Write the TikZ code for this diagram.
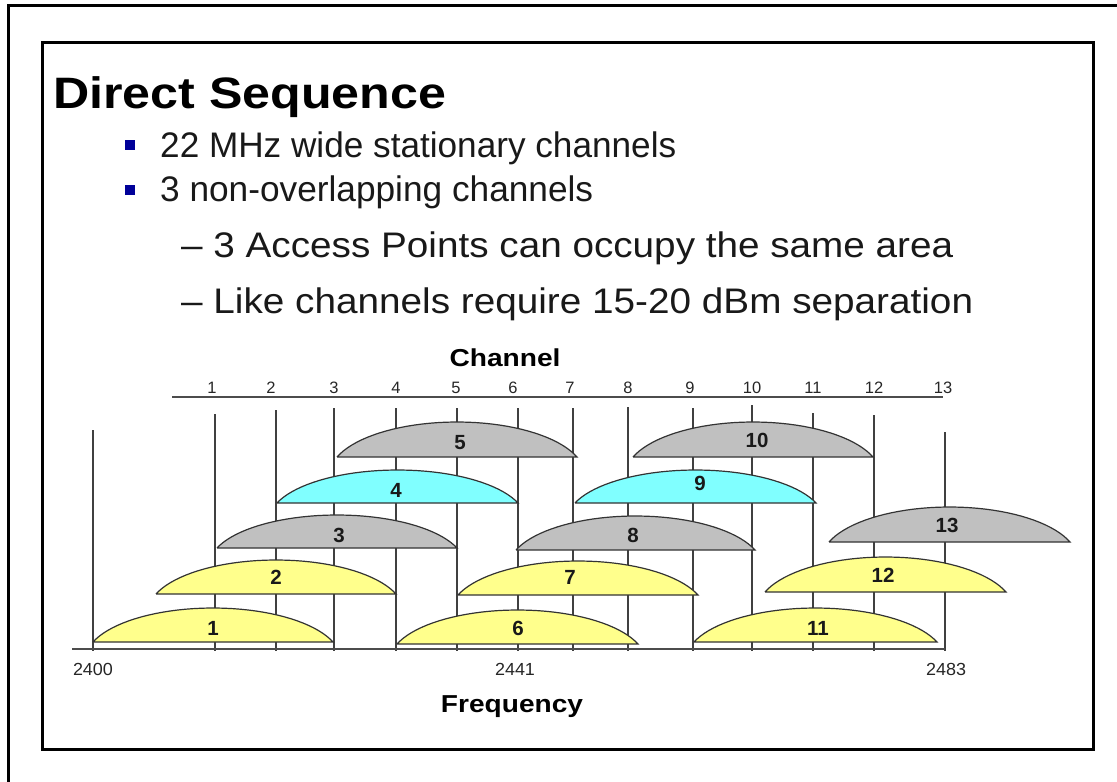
\documentclass[tikz,border=0pt]{standalone}
\usepackage{fontspec}
\setmainfont{Liberation Sans}
\usepackage{graphicx}
\newcommand\tw[2]{\resizebox{#1pt}{\height}{#2}}
\definecolor{lobeyellow}{HTML}{FFFF8C}
\definecolor{lobegray}{HTML}{C0C0C0}
\definecolor{lobecyan}{HTML}{80FFFF}
\definecolor{bulletblue}{HTML}{000099}
\begin{document}
\begin{tikzpicture}[x=1pt,y=-1pt,
  frame/.style={line width=3pt, draw=black},
  gridline/.style={line width=1.4pt, draw=black!75},
  axisline/.style={line width=2pt, draw=black!70},
  lobe/.style={draw=black!80, line width=1.2pt},
  title/.style={inner sep=0, anchor=base west, text=black, font=\fontsize{44}{48}\selectfont\bfseries},
  item/.style={inner sep=0, anchor=base west, text=black!90, font=\fontsize{35.5}{40}\selectfont},
  bullet/.style={fill=bulletblue, draw=none},
  axlabel/.style={inner sep=0, anchor=base, text=black, font=\fontsize{24.5}{27}\selectfont\bfseries},
  chnum/.style={inner sep=0, anchor=base, text=black!85, font=\fontsize{16.5}{18}\selectfont},
  frnum/.style={inner sep=0, anchor=base, text=black!85, font=\fontsize{17.5}{19}\selectfont},
  lobelabel/.style={inner sep=0, anchor=base, text=black!90, font=\fontsize{20.5}{22}\selectfont\bfseries}
]
\useasboundingbox (0,0) rectangle (1117,782);
% frames
\draw[frame] (8,782) -- (8,5) -- (1117,5);
\draw[frame] (42,42) rectangle (1093,749);
% title and items
\node[title] (ttl) at (53,108) {\tw{393}{Direct Sequence}};
\fill[bullet] (125,140) rectangle (135,150);
\fill[bullet] (125,185) rectangle (135,195);
\node[item] (it1) at (160,157) {\tw{516}{22 MHz wide stationary channels}};
\node[item] (it2) at (160,201) {\tw{433}{3 non-overlapping channels}};
\node[item] (it3) at (181,257) {\tw{772}{– 3 Access Points can occupy the same area}};
\node[item] (it4) at (181,313) {\tw{792}{– Like channels require 15-20 dBm separation}};
% channel axis
\node[axlabel] (chlab) at (505,366) {\tw{111}{Channel}};
\draw[axisline] (172,397) -- (943,397);
\foreach \cn/\cxp in {1/212,2/271,3/334,4/396,5/456,6/513,7/570,8/628,9/690,10/752,11/813,12/874,13/943}
  \node[chnum] (ch\cn) at (\cxp,393) {\cn};
% vertical grid lines
\foreach \gx/\gt in {93/430,215/414,276/410,334/408,396/408,457/408,518/408,573/408,628/407,693/408,752/405,813/413,874/415,945/432}
  \draw[gridline] (\gx,\gt) -- (\gx,651);
% frequency axis
\draw[axisline] (72,649) -- (945,649);
\node[frnum] (f2400) at (93,675) {\tw{40}{2400}};
\node[frnum] (f2441) at (515,675) {\tw{40}{2441}};
\node[frnum] (f2483) at (946,675) {\tw{40}{2483}};
\node[axlabel] (frlab) at (512,712) {\tw{142}{Frequency}};
% lobes
\foreach \lL/\lR/\lB/\lT/\lcol/\lnum/\lx/\ly in {
  93/333/642/608/lobeyellow/1/213/628,
  156/396/594/560/lobeyellow/2/276/577,
  217/457/548/515/lobegray/3/339/535,
  277/518/503/470/lobecyan/4/396/490,
  337/577/457/422/lobegray/5/460/442,
  397/638/644/610/lobeyellow/6/518/628,
  458/698/595/561/lobeyellow/7/570/577,
  516/755/550/516/lobegray/8/633/535,
  575/816/503/470/lobecyan/9/700/483,
  633/873/457/422/lobegray/10/757/440,
  694/937/642/608/lobeyellow/11/818/628,
  765/1006/592/557/lobeyellow/12/883/575,
  829/1070/542/507/lobegray/13/947/525}{
  \pgfmathsetmacro\lcx{(\lL+\lR)/2}
  \pgfmathsetmacro\lra{(\lR-\lL)/2/cos(20)}
  \pgfmathsetmacro\lrb{(\lB-\lT)/(1-sin(20))}
  \pgfmathsetmacro\lcy{\lB+\lrb*sin(20)}
  \filldraw[lobe, fill=\lcol] (\lL,\lB) -- plot[domain=160:20, samples=40] ({\lcx+\lra*cos(\x)},{\lcy-\lrb*sin(\x)}) -- cycle;
  \node[lobelabel] (lobe\lnum) at (\lx,\ly+7) {\lnum};
}
\end{tikzpicture}
\end{document}
